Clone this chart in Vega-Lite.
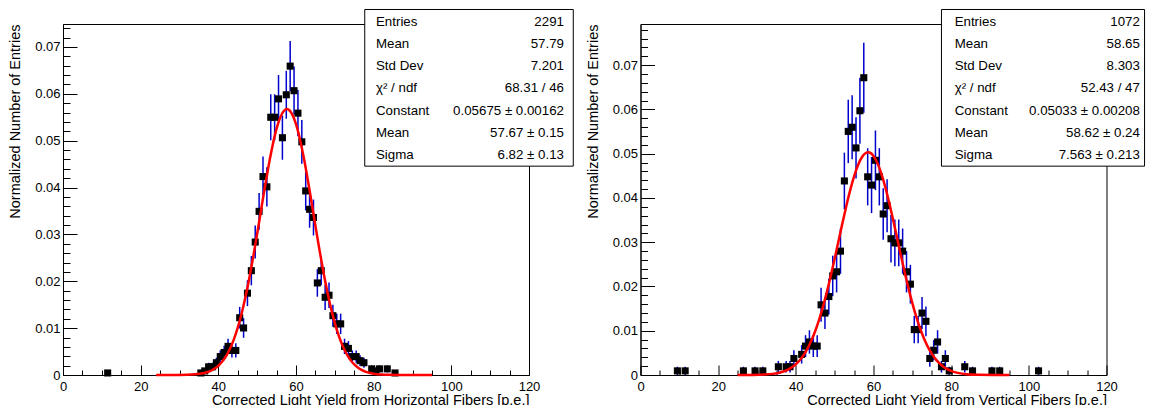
{
  "$schema": "https://vega.github.io/schema/vega-lite/v6.json",
  "padding": {"left": 7, "top": 8, "right": 0, "bottom": 0},
  "bounds": "flush",
  "spacing": 111.5,
  "config": {
    "font": "Liberation Sans",
    "view": {"stroke": "black", "strokeWidth": 1},
    "axis": {
      "grid": false,
      "labelFont": "Liberation Sans",
      "labelFontSize": 13,
      "labelColor": "black",
      "titleFont": "Liberation Sans",
      "titleFontSize": 14.5,
      "titleFontWeight": "normal",
      "titleColor": "black",
      "tickColor": "black",
      "domainColor": "black",
      "labelFlush": false,
      "labelOverlap": false
    },
    "text": {"font": "Liberation Sans", "fontSize": 13.3, "color": "black"}
  },
  "datasets": {
    "hpts": [
      {"x": 11.5, "y": 0.000436, "err": 0.000436},
      {"x": 35.5, "y": 0.000436, "err": 0.000436},
      {"x": 36.5, "y": 0.000873, "err": 0.000617},
      {"x": 37.5, "y": 0.001746, "err": 0.000873},
      {"x": 38.5, "y": 0.001746, "err": 0.000873},
      {"x": 39.5, "y": 0.002619, "err": 0.001069},
      {"x": 40.5, "y": 0.003928, "err": 0.001309},
      {"x": 41.5, "y": 0.004801, "err": 0.001448},
      {"x": 42.5, "y": 0.006111, "err": 0.001633},
      {"x": 43.5, "y": 0.005238, "err": 0.001512},
      {"x": 44.5, "y": 0.005238, "err": 0.001512},
      {"x": 45.5, "y": 0.012222, "err": 0.00231},
      {"x": 46.5, "y": 0.010039, "err": 0.002093},
      {"x": 47.5, "y": 0.01746, "err": 0.002761},
      {"x": 48.5, "y": 0.022261, "err": 0.003117},
      {"x": 49.5, "y": 0.028372, "err": 0.003519},
      {"x": 50.5, "y": 0.034919, "err": 0.003904},
      {"x": 51.5, "y": 0.04234, "err": 0.004299},
      {"x": 52.5, "y": 0.040157, "err": 0.004187},
      {"x": 53.5, "y": 0.054998, "err": 0.0049},
      {"x": 54.5, "y": 0.054998, "err": 0.0049},
      {"x": 55.5, "y": 0.058926, "err": 0.005072},
      {"x": 56.5, "y": 0.050633, "err": 0.004701},
      {"x": 57.5, "y": 0.059799, "err": 0.005109},
      {"x": 58.5, "y": 0.06591, "err": 0.005364},
      {"x": 59.5, "y": 0.060672, "err": 0.005146},
      {"x": 60.5, "y": 0.055871, "err": 0.004938},
      {"x": 61.5, "y": 0.04976, "err": 0.00466},
      {"x": 62.5, "y": 0.039284, "err": 0.004141},
      {"x": 63.5, "y": 0.035356, "err": 0.003928},
      {"x": 64.5, "y": 0.03361, "err": 0.00383},
      {"x": 65.5, "y": 0.019642, "err": 0.002928},
      {"x": 66.5, "y": 0.022261, "err": 0.003117},
      {"x": 67.5, "y": 0.016587, "err": 0.002691},
      {"x": 68.5, "y": 0.017023, "err": 0.002726},
      {"x": 69.5, "y": 0.012658, "err": 0.002351},
      {"x": 70.5, "y": 0.010912, "err": 0.002182},
      {"x": 71.5, "y": 0.010912, "err": 0.002182},
      {"x": 72.5, "y": 0.006111, "err": 0.001633},
      {"x": 73.5, "y": 0.005674, "err": 0.001574},
      {"x": 74.5, "y": 0.003928, "err": 0.001309},
      {"x": 75.5, "y": 0.003928, "err": 0.001309},
      {"x": 76.5, "y": 0.003055, "err": 0.001155},
      {"x": 77.5, "y": 0.002619, "err": 0.001069},
      {"x": 79.5, "y": 0.001309, "err": 0.000756},
      {"x": 80.5, "y": 0.000873, "err": 0.000617},
      {"x": 81.5, "y": 0.001309, "err": 0.000756},
      {"x": 83.5, "y": 0.001309, "err": 0.000756},
      {"x": 85.5, "y": 0.000436, "err": 0.000436}
    ],
    "vpts": [
      {"x": 9.5, "y": 0.000933, "err": 0.000933},
      {"x": 11.5, "y": 0.000933, "err": 0.000933},
      {"x": 26.5, "y": 0.000933, "err": 0.000933},
      {"x": 29.5, "y": 0.000933, "err": 0.000933},
      {"x": 31.5, "y": 0.000933, "err": 0.000933},
      {"x": 35.5, "y": 0.001866, "err": 0.001319},
      {"x": 37.5, "y": 0.001866, "err": 0.001319},
      {"x": 38.5, "y": 0.001866, "err": 0.001319},
      {"x": 39.5, "y": 0.003731, "err": 0.001866},
      {"x": 41.5, "y": 0.004664, "err": 0.002086},
      {"x": 42.5, "y": 0.00653, "err": 0.002468},
      {"x": 43.5, "y": 0.007463, "err": 0.002638},
      {"x": 44.5, "y": 0.00653, "err": 0.002468},
      {"x": 45.5, "y": 0.00653, "err": 0.002468},
      {"x": 46.5, "y": 0.015858, "err": 0.003846},
      {"x": 47.5, "y": 0.013993, "err": 0.003613},
      {"x": 48.5, "y": 0.017724, "err": 0.004066},
      {"x": 49.5, "y": 0.022388, "err": 0.00457},
      {"x": 50.5, "y": 0.023321, "err": 0.004664},
      {"x": 51.5, "y": 0.027985, "err": 0.005109},
      {"x": 52.5, "y": 0.043843, "err": 0.006395},
      {"x": 53.5, "y": 0.055037, "err": 0.007165},
      {"x": 54.5, "y": 0.05597, "err": 0.007226},
      {"x": 55.5, "y": 0.051306, "err": 0.006918},
      {"x": 56.5, "y": 0.059701, "err": 0.007463},
      {"x": 57.5, "y": 0.067164, "err": 0.007915},
      {"x": 58.5, "y": 0.044776, "err": 0.006463},
      {"x": 59.5, "y": 0.04291, "err": 0.006327},
      {"x": 60.5, "y": 0.048507, "err": 0.006727},
      {"x": 61.5, "y": 0.044776, "err": 0.006463},
      {"x": 62.5, "y": 0.036381, "err": 0.005826},
      {"x": 63.5, "y": 0.038246, "err": 0.005973},
      {"x": 64.5, "y": 0.030784, "err": 0.005359},
      {"x": 65.5, "y": 0.029851, "err": 0.005277},
      {"x": 66.5, "y": 0.029851, "err": 0.005277},
      {"x": 67.5, "y": 0.027985, "err": 0.005109},
      {"x": 68.5, "y": 0.023321, "err": 0.004664},
      {"x": 69.5, "y": 0.020522, "err": 0.004375},
      {"x": 70.5, "y": 0.010261, "err": 0.003094},
      {"x": 71.5, "y": 0.010261, "err": 0.003094},
      {"x": 72.5, "y": 0.013993, "err": 0.003613},
      {"x": 73.5, "y": 0.012127, "err": 0.003363},
      {"x": 74.5, "y": 0.003731, "err": 0.001866},
      {"x": 75.5, "y": 0.005597, "err": 0.002285},
      {"x": 76.5, "y": 0.007463, "err": 0.002638},
      {"x": 77.5, "y": 0.001866, "err": 0.001319},
      {"x": 78.5, "y": 0.003731, "err": 0.001866},
      {"x": 79.5, "y": 0.000933, "err": 0.000933},
      {"x": 83.5, "y": 0.001866, "err": 0.001319},
      {"x": 85.5, "y": 0.000933, "err": 0.000933},
      {"x": 90.5, "y": 0.000933, "err": 0.000933},
      {"x": 92.5, "y": 0.000933, "err": 0.000933},
      {"x": 102.5, "y": 0.000933, "err": 0.000933}
    ],
    "hfit": [
      {"x": 24, "f": 0.0000003}, {"x": 28, "f": 0.0000044}, {"x": 32, "f": 0.0000476},
      {"x": 34, "f": 0.000137}, {"x": 36, "f": 0.000364}, {"x": 37, "f": 0.000574},
      {"x": 38, "f": 0.000886}, {"x": 39, "f": 0.001338}, {"x": 40, "f": 0.001977},
      {"x": 41, "f": 0.002862}, {"x": 42, "f": 0.00405}, {"x": 43, "f": 0.005613},
      {"x": 44, "f": 0.00761}, {"x": 45, "f": 0.0101}, {"x": 46, "f": 0.01313},
      {"x": 47, "f": 0.01669}, {"x": 48, "f": 0.02077}, {"x": 49, "f": 0.02529},
      {"x": 50, "f": 0.03015}, {"x": 51, "f": 0.03517}, {"x": 52, "f": 0.04017},
      {"x": 53, "f": 0.04489}, {"x": 54, "f": 0.0491}, {"x": 55, "f": 0.05256},
      {"x": 56, "f": 0.05508}, {"x": 57, "f": 0.05648}, {"x": 57.67, "f": 0.05675},
      {"x": 58, "f": 0.05668}, {"x": 59, "f": 0.05568}, {"x": 60, "f": 0.05353},
      {"x": 61, "f": 0.05037}, {"x": 62, "f": 0.04639}, {"x": 63, "f": 0.04181},
      {"x": 64, "f": 0.03689}, {"x": 65, "f": 0.03185}, {"x": 66, "f": 0.02692},
      {"x": 67, "f": 0.02226}, {"x": 68, "f": 0.01802}, {"x": 69, "f": 0.01427},
      {"x": 70, "f": 0.01107}, {"x": 71, "f": 0.008401}, {"x": 72, "f": 0.006242},
      {"x": 73, "f": 0.004537}, {"x": 74, "f": 0.003228}, {"x": 75, "f": 0.002248},
      {"x": 76, "f": 0.001531}, {"x": 77, "f": 0.001021}, {"x": 78, "f": 0.000667},
      {"x": 79, "f": 0.000426}, {"x": 80, "f": 0.000267}, {"x": 82, "f": 0.000098},
      {"x": 84, "f": 0.000033}, {"x": 87, "f": 0.0000055}, {"x": 91, "f": 0.0000002},
      {"x": 95, "f": 0}
    ],
    "vfit": [
      {"x": 25, "f": 0.0000026}, {"x": 29, "f": 0.0000235}, {"x": 32, "f": 0.000103},
      {"x": 34, "f": 0.000252}, {"x": 36, "f": 0.000574}, {"x": 37, "f": 0.000846},
      {"x": 38, "f": 0.001223}, {"x": 39, "f": 0.00174}, {"x": 40, "f": 0.00243},
      {"x": 41, "f": 0.003335}, {"x": 42, "f": 0.004498}, {"x": 43, "f": 0.005963},
      {"x": 44, "f": 0.007775}, {"x": 45, "f": 0.009946}, {"x": 46, "f": 0.01251},
      {"x": 47, "f": 0.01546}, {"x": 48, "f": 0.01878}, {"x": 49, "f": 0.02241},
      {"x": 50, "f": 0.02629}, {"x": 51, "f": 0.0303}, {"x": 52, "f": 0.03431},
      {"x": 53, "f": 0.03818}, {"x": 54, "f": 0.04176}, {"x": 55, "f": 0.04488},
      {"x": 56, "f": 0.0474}, {"x": 57, "f": 0.04919}, {"x": 58, "f": 0.05016},
      {"x": 58.62, "f": 0.05033}, {"x": 59, "f": 0.05027}, {"x": 60, "f": 0.0495},
      {"x": 61, "f": 0.0479}, {"x": 62, "f": 0.04555}, {"x": 63, "f": 0.04256},
      {"x": 64, "f": 0.03908}, {"x": 65, "f": 0.03526}, {"x": 66, "f": 0.03127},
      {"x": 67, "f": 0.02724}, {"x": 68, "f": 0.02332}, {"x": 69, "f": 0.01962},
      {"x": 70, "f": 0.01623}, {"x": 71, "f": 0.01318}, {"x": 72, "f": 0.01052},
      {"x": 73, "f": 0.008258}, {"x": 74, "f": 0.006367}, {"x": 75, "f": 0.004822},
      {"x": 76, "f": 0.00359}, {"x": 77, "f": 0.002627}, {"x": 78, "f": 0.001888},
      {"x": 79, "f": 0.001333}, {"x": 80, "f": 0.000926}, {"x": 82, "f": 0.000423},
      {"x": 84, "f": 0.000181}, {"x": 87, "f": 0.000044}, {"x": 91, "f": 0.0000053},
      {"x": 95, "f": 0.0000004}
    ],
    "hstats": [
      {"line": 1, "label": "Entries", "value": "2291"},
      {"line": 2, "label": "Mean", "value": "57.79"},
      {"line": 3, "label": "Std Dev", "value": "7.201"},
      {"line": 4, "label": "χ² / ndf", "value": "68.31 / 46"},
      {"line": 5, "label": "Constant", "value": "0.05675 ± 0.00162"},
      {"line": 6, "label": "Mean", "value": "57.67 ± 0.15"},
      {"line": 7, "label": "Sigma", "value": "6.82 ± 0.13"}
    ],
    "vstats": [
      {"line": 1, "label": "Entries", "value": "1072"},
      {"line": 2, "label": "Mean", "value": "58.65"},
      {"line": 3, "label": "Std Dev", "value": "8.303"},
      {"line": 4, "label": "χ² / ndf", "value": "52.43 / 47"},
      {"line": 5, "label": "Constant", "value": "0.05033 ± 0.00208"},
      {"line": 6, "label": "Mean", "value": "58.62 ± 0.24"},
      {"line": 7, "label": "Sigma", "value": "7.563 ± 0.213"}
    ]
  },
  "hconcat": [
    {
      "width": 466,
      "height": 351,
      "layer": [
        {
          "data": {"name": "hpts"},
          "layer": [
            {
              "mark": {"type": "errorbar", "color": "#0000cc", "thickness": 1.5},
              "encoding": {
                "x": {"field": "x", "type": "quantitative",
                  "scale": {"domain": [0, 120], "nice": false, "zero": false},
                  "axis": {"orient": "bottom", "values": [5, 10, 15, 25, 30, 35, 45, 50, 55, 65, 70, 75, 85, 90, 95, 105, 110, 115],
                    "tickSize": -5, "labels": false, "domain": false, "title": null}},
                "y": {"field": "y", "type": "quantitative",
                  "scale": {"domain": [0, 0.0749], "nice": false},
                  "axis": {"orient": "left", "values": [0.002, 0.004, 0.006, 0.008, 0.012, 0.014, 0.016, 0.018, 0.022, 0.024, 0.026, 0.028, 0.032, 0.034, 0.036, 0.038, 0.042, 0.044, 0.046, 0.048, 0.052, 0.054, 0.056, 0.058, 0.062, 0.064, 0.066, 0.068, 0.072, 0.074],
                    "tickSize": -7, "labels": false, "domain": false, "title": null}},
                "yError": {"field": "err"}
              }
            },
            {
              "mark": {"type": "square", "size": 50, "color": "black", "opacity": 1},
              "encoding": {
                "x": {"field": "x", "type": "quantitative",
                  "axis": {"orient": "bottom", "values": [0, 20, 40, 60, 80, 100, 120], "tickSize": -10, "labelPadding": 15,
                    "title": "Corrected Light Yield from Horizontal Fibers [p.e.]", "titleAnchor": "end", "titlePadding": 0}},
                "y": {"field": "y", "type": "quantitative",
                  "axis": {"orient": "left", "values": [0, 0.01, 0.02, 0.03, 0.04, 0.05, 0.06, 0.07], "format": "~g", "tickSize": -14, "labelPadding": 17,
                    "title": "Normalized Number of Entries", "titleAnchor": "end", "titlePadding": 12}}
              }
            },
            {
              "data": {"name": "hfit"},
              "mark": {"type": "line", "color": "#ff0000", "strokeWidth": 2.5, "interpolate": "monotone"},
              "encoding": {
                "x": {"field": "x", "type": "quantitative", "axis": null},
                "y": {"field": "f", "type": "quantitative", "axis": null}
              }
            }
          ],
          "resolve": {"axis": {"x": "independent", "y": "independent"}}
        },
        {
          "data": {"name": "hstats"},
          "layer": [
            {
              "transform": [{"filter": {"field": "line", "equal": 1}}],
              "mark": {"type": "rect", "fill": "white", "stroke": "black", "strokeWidth": 1, "opacity": 1},
              "encoding": {
                "x": {"datum": 77.7, "type": "quantitative", "axis": null},
                "x2": {"datum": 131.4},
                "y": {"datum": 0.45, "type": "quantitative",
                  "scale": {"domain": [1.103, 16.897], "reverse": true, "nice": false, "zero": false}, "axis": null},
                "y2": {"datum": 7.5}
              }
            },
            {
              "mark": {"type": "text", "align": "left", "baseline": "middle"},
              "encoding": {
                "x": {"datum": 80.6, "type": "quantitative", "axis": null},
                "y": {"field": "line", "type": "quantitative", "axis": null},
                "text": {"field": "label"}
              }
            },
            {
              "mark": {"type": "text", "align": "right", "baseline": "middle"},
              "encoding": {
                "x": {"datum": 129.0, "type": "quantitative", "axis": null},
                "y": {"field": "line", "type": "quantitative", "axis": null},
                "text": {"field": "value"}
              }
            }
          ]
        }
      ],
      "resolve": {"scale": {"y": "independent"}, "axis": {"x": "independent", "y": "independent"}}
    },
    {
      "width": 466,
      "height": 351,
      "layer": [
        {
          "data": {"name": "vpts"},
          "layer": [
            {
              "mark": {"type": "errorbar", "color": "#0000cc", "thickness": 1.5},
              "encoding": {
                "x": {"field": "x", "type": "quantitative",
                  "scale": {"domain": [0, 120], "nice": false, "zero": false},
                  "axis": {"orient": "bottom", "values": [5, 10, 15, 25, 30, 35, 45, 50, 55, 65, 70, 75, 85, 90, 95, 105, 110, 115],
                    "tickSize": -5, "labels": false, "domain": false, "title": null}},
                "y": {"field": "y", "type": "quantitative",
                  "scale": {"domain": [0, 0.0793], "nice": false},
                  "axis": {"orient": "left", "values": [0.002, 0.004, 0.006, 0.008, 0.012, 0.014, 0.016, 0.018, 0.022, 0.024, 0.026, 0.028, 0.032, 0.034, 0.036, 0.038, 0.042, 0.044, 0.046, 0.048, 0.052, 0.054, 0.056, 0.058, 0.062, 0.064, 0.066, 0.068, 0.072, 0.074, 0.076, 0.078],
                    "tickSize": -7, "labels": false, "domain": false, "title": null}},
                "yError": {"field": "err"}
              }
            },
            {
              "mark": {"type": "square", "size": 50, "color": "black", "opacity": 1},
              "encoding": {
                "x": {"field": "x", "type": "quantitative",
                  "axis": {"orient": "bottom", "values": [0, 20, 40, 60, 80, 100, 120], "tickSize": -10, "labelPadding": 15,
                    "title": "Corrected Light Yield from Vertical Fibers [p.e.]", "titleAnchor": "end", "titlePadding": 0}},
                "y": {"field": "y", "type": "quantitative",
                  "axis": {"orient": "left", "values": [0, 0.01, 0.02, 0.03, 0.04, 0.05, 0.06, 0.07], "format": "~g", "tickSize": -14, "labelPadding": 17,
                    "title": "Normalized Number of Entries", "titleAnchor": "end", "titlePadding": 12}}
              }
            },
            {
              "data": {"name": "vfit"},
              "mark": {"type": "line", "color": "#ff0000", "strokeWidth": 2.5, "interpolate": "monotone"},
              "encoding": {
                "x": {"field": "x", "type": "quantitative", "axis": null},
                "y": {"field": "f", "type": "quantitative", "axis": null}
              }
            }
          ],
          "resolve": {"axis": {"x": "independent", "y": "independent"}}
        },
        {
          "data": {"name": "vstats"},
          "layer": [
            {
              "transform": [{"filter": {"field": "line", "equal": 1}}],
              "mark": {"type": "rect", "fill": "white", "stroke": "black", "strokeWidth": 1, "opacity": 1},
              "encoding": {
                "x": {"datum": 77.5, "type": "quantitative", "axis": null},
                "x2": {"datum": 129.8},
                "y": {"datum": 0.45, "type": "quantitative",
                  "scale": {"domain": [1.103, 16.897], "reverse": true, "nice": false, "zero": false}, "axis": null},
                "y2": {"datum": 7.5}
              }
            },
            {
              "mark": {"type": "text", "align": "left", "baseline": "middle"},
              "encoding": {
                "x": {"datum": 80.9, "type": "quantitative", "axis": null},
                "y": {"field": "line", "type": "quantitative", "axis": null},
                "text": {"field": "label"}
              }
            },
            {
              "mark": {"type": "text", "align": "right", "baseline": "middle"},
              "encoding": {
                "x": {"datum": 128.6, "type": "quantitative", "axis": null},
                "y": {"field": "line", "type": "quantitative", "axis": null},
                "text": {"field": "value"}
              }
            }
          ]
        }
      ],
      "resolve": {"scale": {"y": "independent"}, "axis": {"x": "independent", "y": "independent"}}
    }
  ]
}
